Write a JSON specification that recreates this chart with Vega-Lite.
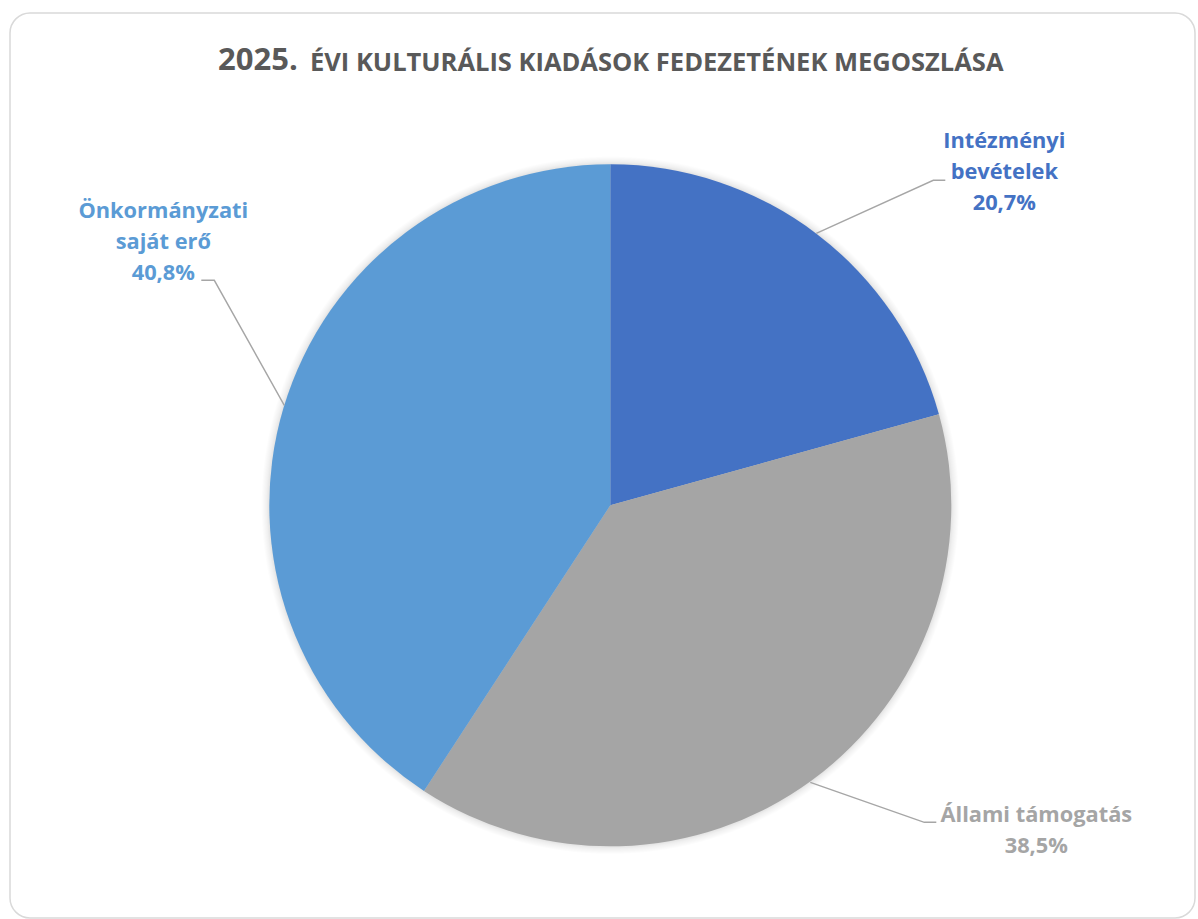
{
  "$schema": "https://vega.github.io/schema/vega-lite/v6.json",
  "padding": {"left": 9, "top": 12, "right": 2, "bottom": 1},
  "background": "white",
  "config": {
    "view": {"stroke": "#d9d9d9", "strokeWidth": 1.5, "cornerRadius": 20},
    "font": "Open Sans"
  },
  "title": {
    "text": "2025.",
    "anchor": "start",
    "frame": "group",
    "dx": 208,
    "offset": -64.7,
    "font": "Open Sans",
    "fontSize": 31,
    "fontWeight": "bold",
    "color": "#595959"
  },
  "datasets": {
    "pie": [
      {"name": "Intézményi bevételek", "value": 20.7},
      {"name": "Állami támogatás", "value": 38.5},
      {"name": "Önkormányzati saját erő", "value": 40.8}
    ],
    "labels": [
      {"name": "Intézményi bevételek", "label": "Intézményi\nbevételek\n20,7%", "X": 394, "Y": 364},
      {"name": "Állami támogatás", "label": "Állami támogatás\n38,5%", "X": 426, "Y": -310},
      {"name": "Önkormányzati saját erő", "label": "Önkormányzati\nsaját erő\n40,8%", "X": -447, "Y": 294}
    ],
    "leaders": [
      {"name": "Intézményi bevételek", "i": 1, "X": 206, "Y": 272},
      {"name": "Intézményi bevételek", "i": 2, "X": 323, "Y": 325},
      {"name": "Intézményi bevételek", "i": 3, "X": 335, "Y": 325},
      {"name": "Állami támogatás", "i": 1, "X": 200, "Y": -277},
      {"name": "Állami támogatás", "i": 2, "X": 314, "Y": -317},
      {"name": "Állami támogatás", "i": 3, "X": 326, "Y": -317},
      {"name": "Önkormányzati saját erő", "i": 1, "X": -326, "Y": 100},
      {"name": "Önkormányzati saját erő", "i": 2, "X": -396, "Y": 225},
      {"name": "Önkormányzati saját erő", "i": 3, "X": -409, "Y": 225}
    ]
  },
  "vconcat": [
    {
      "width": 1185,
      "height": 905,
      "title": {
        "text": "ÉVI KULTURÁLIS KIADÁSOK FEDEZETÉNEK MEGOSZLÁSA",
        "anchor": "start",
        "frame": "group",
        "dx": 300,
        "offset": -63,
        "font": "Open Sans",
        "fontSize": 25.5,
        "fontWeight": "bold",
        "color": "#595959"
      },
      "layer": [
        {
          "data": {"values": [{}]},
          "mark": {
            "type": "arc",
            "outerRadius": 349,
            "fill": {
              "gradient": "radial",
              "x1": 0.5, "y1": 0.5, "r1": 0,
              "x2": 0.5, "y2": 0.5, "r2": 0.5,
              "stops": [
                {"offset": 0.96, "color": "rgba(0,0,0,0.22)"},
                {"offset": 0.985, "color": "rgba(0,0,0,0.06)"},
                {"offset": 1, "color": "rgba(0,0,0,0)"}
              ]
            }
          },
          "encoding": {
            "x": {"datum": 0, "type": "quantitative", "stack": false, "scale": {"domain": [-600.3, 584.7], "nice": false, "zero": false}, "axis": null},
            "y": {"datum": 0, "type": "quantitative", "stack": false, "scale": {"domain": [-412.7, 492.3], "nice": false, "zero": false}, "axis": null}
          }
        },
        {
          "data": {"name": "pie"},
          "transform": [
            {"stack": "value", "groupby": [], "sort": [{"field": "name", "order": "ascending"}], "as": ["v0", "v1"]}
          ],
          "mark": {"type": "arc", "outerRadius": 341},
          "encoding": {
            "x": {"datum": 0, "type": "quantitative", "stack": false, "scale": {"domain": [-600.3, 584.7], "nice": false, "zero": false}, "axis": null},
            "y": {"datum": 0, "type": "quantitative", "stack": false, "scale": {"domain": [-412.7, 492.3], "nice": false, "zero": false}, "axis": null},
            "theta": {"field": "v0", "type": "quantitative", "scale": {"domain": [0, 100]}},
            "theta2": {"field": "v1"},
            "color": {
              "field": "name", "type": "nominal",
              "scale": {"domain": ["Intézményi bevételek", "Állami támogatás", "Önkormányzati saját erő"], "range": ["#4472C4", "#A5A5A5", "#5B9BD5"]},
              "legend": null
            }
          }
        },
        {
          "data": {"name": "leaders"},
          "mark": {"type": "line", "color": "#a6a6a6", "strokeWidth": 1.4},
          "encoding": {
            "x": {"field": "X", "type": "quantitative", "scale": {"domain": [-600.3, 584.7], "nice": false, "zero": false}, "axis": null},
            "y": {"field": "Y", "type": "quantitative", "scale": {"domain": [-412.7, 492.3], "nice": false, "zero": false}, "axis": null},
            "detail": {"field": "name", "type": "nominal"},
            "order": {"field": "i", "type": "quantitative"}
          }
        },
        {
          "data": {"name": "labels"},
          "mark": {"type": "text", "font": "Open Sans", "fontSize": 21.8, "fontWeight": "bold", "lineBreak": "\n", "lineHeight": 31, "align": "center", "baseline": "middle"},
          "encoding": {
            "x": {"field": "X", "type": "quantitative", "scale": {"domain": [-600.3, 584.7], "nice": false, "zero": false}, "axis": null},
            "y": {"field": "Y", "type": "quantitative", "scale": {"domain": [-412.7, 492.3], "nice": false, "zero": false}, "axis": null},
            "text": {"field": "label", "type": "nominal"},
            "color": {
              "field": "name", "type": "nominal",
              "scale": {"domain": ["Intézményi bevételek", "Állami támogatás", "Önkormányzati saját erő"], "range": ["#4472C4", "#A5A5A5", "#5B9BD5"]},
              "legend": null
            }
          }
        }
      ]
    }
  ]
}
